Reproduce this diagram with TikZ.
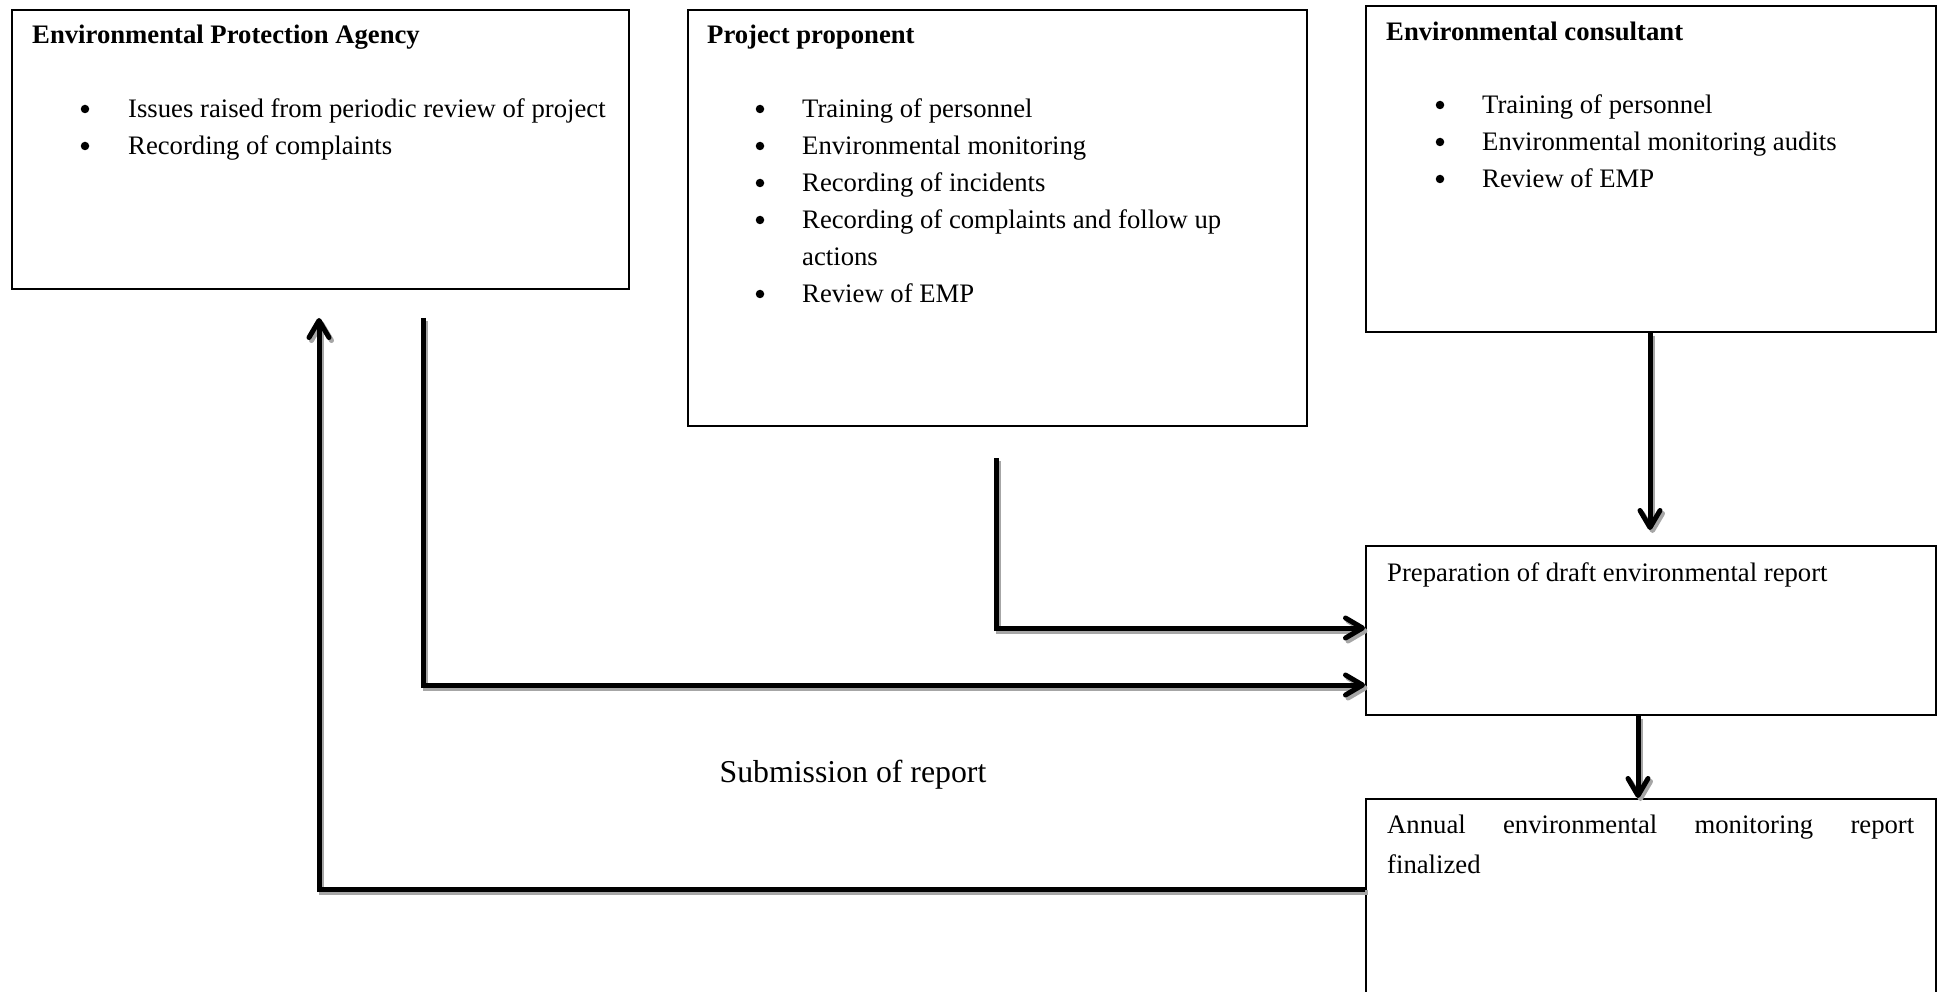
\documentclass[tikz,border=0pt]{standalone}
\usepackage{fontspec}
\setmainfont{Liberation Serif}
\usetikzlibrary{arrows.meta}
\newcommand{\sdraw}[2]{%
  \draw[conn,shadowcol,#1,transform canvas={xshift=2.5pt,yshift=-3pt}] #2;%
  \draw[conn,black,#1] #2;}
\begin{document}
\begin{tikzpicture}[x=1pt,y=-1pt,
  box/.style={draw=black,line width=1.7pt,inner sep=0pt,anchor=north west},
  txt/.style={inner sep=0pt,anchor=base west,font=\fontsize{26.7}{37}\selectfont},
  head/.style={inner sep=0pt,anchor=base west,font=\fontsize{26.7}{37}\selectfont\bfseries},
  bul/.style={circle,fill=black,inner sep=0pt,minimum size=8.5pt},
  big/.style={inner sep=0pt,anchor=base,font=\fontsize{31.8}{40}\selectfont},
  conn/.style={line width=5pt,line join=miter},
  shadowcol/.style={draw=black!35},
  tip/.style={-{Straight Barb[length=17pt,width=20pt,round]}}
]
\fill[white] (0,0) rectangle (1941,992);
\useasboundingbox (0,0) rectangle (1941,992);

% boxes
\node[box,minimum width=617pt,minimum height=279pt] (epa) at (11,9) {};
\node[box,minimum width=619pt,minimum height=416pt] (pp) at (687,9) {};
\node[box,minimum width=570pt,minimum height=326pt] (ec) at (1365,5) {};
\node[box,minimum width=570pt,minimum height=169pt] (draft) at (1365,545) {};
\node[box,minimum width=570pt,minimum height=210pt] (annual) at (1365,798) {};

% EPA text
\node[head] (epaH) at (32,44) {Environmental Protection Agency};
\node[bul] (epaB1) at (85,109) {};
\node[txt] (epaT1) at (128,118) {Issues raised from periodic review of project};
\node[bul] (epaB2) at (85,146) {};
\node[txt] (epaT2) at (128,155) {Recording of complaints};

% Project proponent text
\node[head] (ppH) at (707,44) {Project proponent};
\node[bul] (ppB1) at (760,109) {};
\node[txt] (ppT1) at (802,118) {Training of personnel};
\node[bul] (ppB2) at (760,146) {};
\node[txt] (ppT2) at (802,155) {Environmental monitoring};
\node[bul] (ppB3) at (760,183) {};
\node[txt] (ppT3) at (802,192) {Recording of incidents};
\node[bul] (ppB4) at (760,220) {};
\node[txt] (ppT4) at (802,229) {Recording of complaints and follow up};
\node[txt] (ppT4b) at (802,266) {actions};
\node[bul] (ppB5) at (760,294) {};
\node[txt] (ppT5) at (802,303) {Review of EMP};

% Environmental consultant text
\node[head] (ecH) at (1386,41) {Environmental consultant};
\node[bul] (ecB1) at (1440,105) {};
\node[txt] (ecT1) at (1482,114) {Training of personnel};
\node[bul] (ecB2) at (1440,142) {};
\node[txt] (ecT2) at (1482,151) {Environmental monitoring audits};
\node[bul] (ecB3) at (1440,179) {};
\node[txt] (ecT3) at (1482,188) {Review of EMP};

% draft / annual text
\node[txt] (draftT) at (1387,581) {Preparation of draft environmental report};
\node[txt] (annT1) at (1387,833) {\makebox[527pt][s]{Annual environmental monitoring report}};
\node[txt] (annT2) at (1387,873) {finalized};

\node[big] (sub) at (853,782) {Submission of report};

% connector coordinates
\coordinate (epaOut) at (423,318);
\coordinate (epaTurn) at (423,685);
\coordinate (ppOut) at (996,458);
\coordinate (ppTurn) at (996,628);
\coordinate (retTurn) at (319,889);
\coordinate (retEnd) at (319,318);
\coordinate (ecTip) at (1650,530);
\coordinate (dx) at (1638,0);

% connectors
\sdraw{tip}{(epaOut) -- (epaTurn) -- (draft.west |- epaTurn)}
\sdraw{tip}{(ppOut) -- (ppTurn) -- (draft.west |- ppTurn)}
\sdraw{tip}{(annual.west |- retTurn) -- (retTurn) -- (retEnd)}
\sdraw{tip}{(ec.south -| ecTip) -- (ecTip)}
\sdraw{tip}{(draft.south -| dx) -- (annual.north -| dx)}
\end{tikzpicture}
\end{document}
